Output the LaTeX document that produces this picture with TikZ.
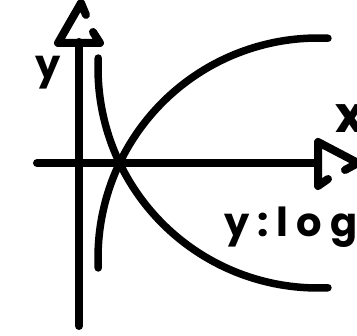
\documentclass[tikz,border=0pt]{standalone}
\usepackage{fontspec}
\newfontfamily\labfont{Poppins}
\newfontfamily\logfont{Poppins}[LetterSpace=20]
\begin{document}
\begin{tikzpicture}[x=1pt,y=-1pt,line cap=round,line join=round,
  axis/.style={line width=8pt},
  curve/.style={line width=7.5pt},
  lab/.style={inner sep=0pt,font=\labfont\bfseries\fontsize{40}{40}\selectfont},
  biglab/.style={inner sep=0pt,font=\labfont\bfseries\fontsize{50}{50}\selectfont},
  loglab/.style={inner sep=0pt,font=\logfont\bfseries\fontsize{40}{40}\selectfont}]
\useasboundingbox (0,0) rectangle (357,336);
% axes
\coordinate (ytop) at (79,42);
\coordinate (ybot) at (79,326);
\coordinate (xleft) at (37,163);
\coordinate (xright) at (318,163);
\draw[axis] (ybot) -- (ytop);
\draw[axis] (xleft) -- (xright);
% top arrowhead
\coordinate (ta) at (81,3);
\coordinate (tl) at (58,43);
\coordinate (tr) at (100,43);
\draw[axis] (86,15) -- (ta) -- (tl) -- (tr) -- (93,32);
% right arrowhead
\coordinate (ra) at (358,163);
\coordinate (rt) at (318,142);
\coordinate (rb) at (318,186);
\draw[axis] (345,170) -- (ra) -- (rt) -- (rb) -- (328,179);
% curves (circular arcs)
\coordinate (c1) at (318,258);
\coordinate (c2) at (318,68);
\draw[curve] (c1) ++(177.4:220) arc[start angle=177.4,end angle=272.6,radius=220];
\draw[curve] (c2) ++(182.6:220) arc[start angle=182.6,end angle=87.4,radius=220];
% labels
\node[lab] (ylab) at (48,73) {y};
\node[biglab] (xlab) at (350,119) {x};
\node[loglab,anchor=base west] (loglab) at (224,237) {y:log};
\end{tikzpicture}
\end{document}
